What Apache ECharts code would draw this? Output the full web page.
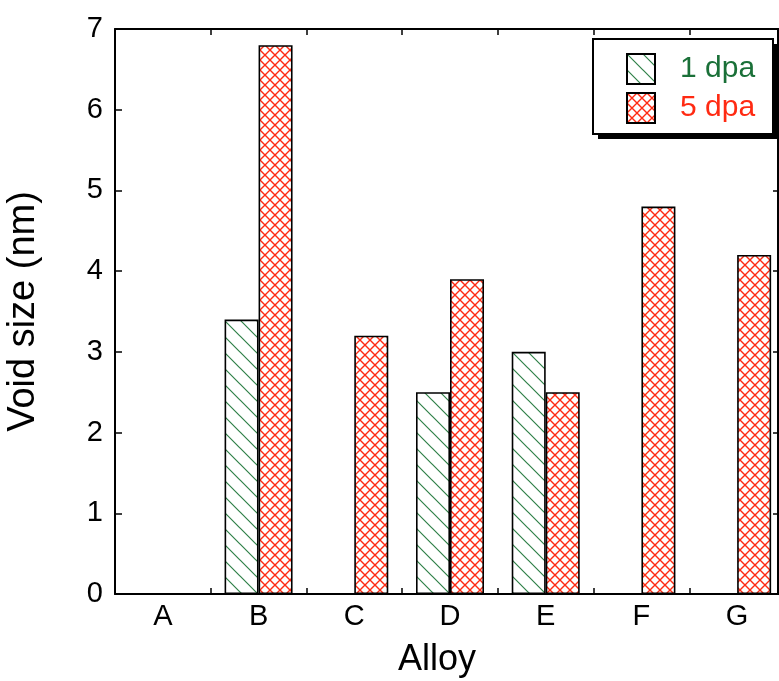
<!DOCTYPE html>
<html>
<head>
<meta charset="utf-8">
<script src="https://cdn.jsdelivr.net/npm/echarts@6/dist/echarts.min.js"></script>
<style>
  html, body { margin: 0; padding: 0; background: #fff; }
  #chart { width: 779px; height: 681px; }
</style>
</head>
<body>
<div id="chart"></div>
<script>
var alloys = ['A', 'B', 'C', 'D', 'E', 'F', 'G'];
var dpa1 = [null, 3.4, null, 2.5, 3.0, null, null];
var dpa5 = [null, 6.8, 3.2, 3.9, 2.5, 4.8, 4.2];
var yTicks = [0, 1, 2, 3, 4, 5, 6, 7];

function makePattern(kind) {
    var c = document.createElement('canvas');
    var ctx = c.getContext('2d');
    if (kind === 'hatch') {
        c.width = 16; c.height = 16;
        ctx.fillStyle = '#fff';
        ctx.fillRect(0, 0, 16, 16);
        ctx.strokeStyle = '#2f8048';
        ctx.lineWidth = 1.2;
        ctx.beginPath();
        ctx.moveTo(-2, -2); ctx.lineTo(18, 18);
        ctx.moveTo(-2, 14); ctx.lineTo(2, 18);
        ctx.moveTo(14, -2); ctx.lineTo(18, 2);
        ctx.stroke();
    } else {
        c.width = 10; c.height = 10;
        ctx.fillStyle = '#fff';
        ctx.fillRect(0, 0, 10, 10);
        ctx.strokeStyle = '#ff2a12';
        ctx.lineWidth = 1.4;
        ctx.beginPath();
        ctx.moveTo(-1, -1); ctx.lineTo(11, 11);
        ctx.moveTo(11, -1); ctx.lineTo(-1, 11);
        ctx.stroke();
    }
    return { image: c, repeat: 'repeat' };
}

var chart = echarts.init(document.getElementById('chart'));
var font = 'Liberation Sans, Arial, sans-serif';

// plot box runs a little past the window's right edge (as in the original),
// the right frame line is pulled back in with an offset
var xBase = {
    type: 'category',
    data: alloys,
    boundaryGap: true,
    axisLine: { onZero: false, lineStyle: { color: '#000', width: 2 } },
    axisTick: { show: true, inside: true, length: 6, lineStyle: { color: '#000', width: 1.5 } },
    splitLine: { show: false }
};

var yBase = {
    type: 'value',
    min: yTicks[0],
    max: yTicks[yTicks.length - 1],
    interval: 1,
    axisLine: { show: true, onZero: false, lineStyle: { color: '#000', width: 2 } },
    axisTick: { show: true, inside: true, length: 7, lineStyle: { color: '#000', width: 1.5 } },
    splitLine: { show: false }
};

var option = {
    animation: false,
    backgroundColor: '#fff',
    grid: { left: 115, top: 29, width: 670, height: 565, outerBoundsMode: 'none', containLabel: false },
    // legend frame with its drop shadow
    graphic: [
        { type: 'rect', z: 5, shape: { x: 598, y: 44, width: 180, height: 95 }, style: { fill: '#000' } },
        { type: 'rect', z: 6, shape: { x: 593, y: 39, width: 180, height: 95 }, style: { fill: '#fff', stroke: '#000', lineWidth: 2 } }
    ],
    legend: {
        left: 626,
        top: 53,
        z: 10,
        orient: 'vertical',
        icon: 'rect',
        itemWidth: 28,
        itemHeight: 30,
        itemGap: 7,
        padding: 0,
        textStyle: { fontFamily: font, fontSize: 30, padding: [0, 0, 0, 20] },
        data: [
            { name: '1 dpa', textStyle: { color: '#1a7038' } },
            { name: '5 dpa', textStyle: { color: '#ff2a12' } }
        ]
    },
    xAxis: [
        Object.assign({}, xBase, {
            position: 'bottom',
            name: 'Alloy',
            nameLocation: 'middle',
            nameGap: 48,
            nameTextStyle: { fontFamily: font, fontSize: 36, color: '#000', padding: [0, 26, 0, 0] },
            axisLabel: { fontFamily: font, fontSize: 29, color: '#000', margin: 8 }
        }),
        Object.assign({}, xBase, {
            position: 'top',
            axisLabel: { show: false }
        })
    ],
    yAxis: [
        Object.assign({}, yBase, {
            position: 'left',
            name: 'Void size (nm)',
            nameLocation: 'middle',
            nameGap: 72,
            nameTextStyle: { fontFamily: font, fontSize: 38, color: '#000' },
            axisLabel: { fontFamily: font, fontSize: 29, color: '#000', margin: 12 }
        }),
        Object.assign({}, yBase, {
            position: 'right',
            offset: -7,
            axisTick: { show: true, inside: true, length: 5, lineStyle: { color: '#000', width: 1.5 } },
            axisLabel: { show: false }
        })
    ],
    series: [
        {
            name: '1 dpa',
            type: 'bar',
            barWidth: 34,
            barGap: '0%',
            data: dpa1,
            itemStyle: { color: makePattern('hatch'), borderColor: '#000', borderWidth: 1.6 }
        },
        {
            name: '5 dpa',
            type: 'bar',
            barWidth: 34,
            barGap: '0%',
            data: dpa5,
            itemStyle: { color: makePattern('cross'), borderColor: '#000', borderWidth: 1.6 }
        }
    ]
};

chart.setOption(option);
</script>
</body>
</html>
